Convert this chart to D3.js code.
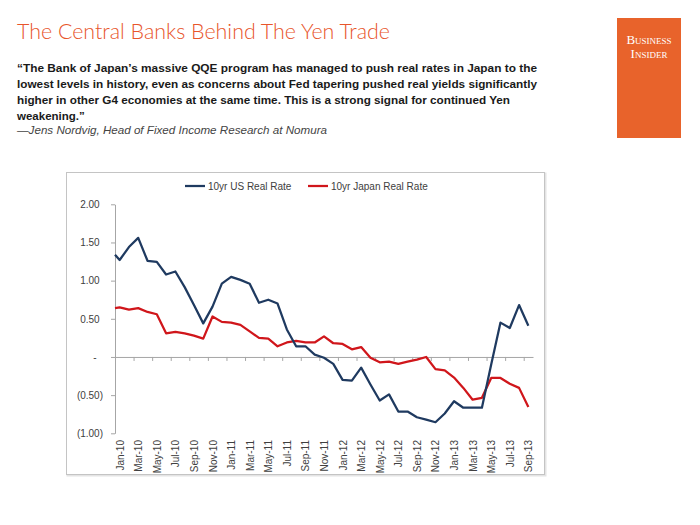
<!DOCTYPE html>
<html lang="en">
  <head>
    <meta charset="UTF-8" />
    <script src="https://d3js.org/d3.v7.min.js"></script>
    <style>
      body {
        margin: 0;
        background: #fff;
      }
      svg {
        display: block;
      }
    </style>
  </head>
  <body>
    <div id="chart"></div>
    <script>
      // month categories (Jan-10 .. Sep-13), every other one is labelled
      var months = [
        "Jan-10", "Feb-10", "Mar-10", "Apr-10", "May-10", "Jun-10", "Jul-10", "Aug-10", "Sep-10", "Oct-10", "Nov-10", "Dec-10",
        "Jan-11", "Feb-11", "Mar-11", "Apr-11", "May-11", "Jun-11", "Jul-11", "Aug-11", "Sep-11", "Oct-11", "Nov-11", "Dec-11",
        "Jan-12", "Feb-12", "Mar-12", "Apr-12", "May-12", "Jun-12", "Jul-12", "Aug-12", "Sep-12", "Oct-12", "Nov-12", "Dec-12",
        "Jan-13", "Feb-13", "Mar-13", "Apr-13", "May-13", "Jun-13", "Jul-13", "Aug-13", "Sep-13"
      ];

      // value where each line starts, at the left edge of the axis
      var usOpen = 1.34;
      var jpOpen = 0.64;

      var usRate = [
        1.27, 1.44, 1.56, 1.26, 1.245, 1.08, 1.12, 0.915, 0.68, 0.44, 0.66, 0.96,
        1.05, 1.01, 0.96, 0.71, 0.75, 0.70, 0.36, 0.14, 0.14, 0.03, -0.01, -0.09,
        -0.30, -0.31, -0.14, -0.36, -0.57, -0.49, -0.715, -0.715, -0.79, -0.82, -0.855, -0.74,
        -0.58, -0.665, -0.665, -0.665, -0.10, 0.45, 0.38, 0.68, 0.41
      ];

      var jpRate = [
        0.65, 0.62, 0.64, 0.59, 0.56, 0.31, 0.33, 0.31, 0.28, 0.24, 0.53, 0.46,
        0.45, 0.42, 0.335, 0.25, 0.24, 0.14, 0.19, 0.21, 0.19, 0.19, 0.27, 0.18,
        0.17, 0.10, 0.13, -0.01, -0.07, -0.06, -0.09, -0.06, -0.035, 0.0, -0.16, -0.175,
        -0.27, -0.405, -0.56, -0.535, -0.275, -0.275, -0.35, -0.405, -0.655
      ];

      var yTicks = [2, 1.5, 1, 0.5, 0, -0.5, -1];
      var seriesNames = ["10yr US Real Rate", "10yr Japan Real Rate"];

      var quoteLines = [
        "\u201cThe Bank of Japan\u2019s massive QQE program has managed to push real rates in Japan to the",
        "lowest levels in history, even as concerns about Fed tapering pushed real yields significantly",
        "higher in other G4 economies at the same time. This is a strong signal for continued Yen",
        "weakening.\u201d"
      ];

      var width = 700;
      var height = 525;
      var usColor = "#1f3a60";
      var jpColor = "#d0161b";
      var axisColor = "#a6a6a6";

      var svg = d3
        .select("#chart")
        .append("svg")
        .attr("width", width)
        .attr("height", height);

      // --- header ---
      svg
        .append("text")
        .attr("x", 17)
        .attr("y", 39)
        .attr("textLength", 373)
        .attr("lengthAdjust", "spacingAndGlyphs")
        .style("font-family", "Lato, 'Open Sans', sans-serif")
        .style("font-weight", 300)
        .style("font-size", "22px")
        .style("fill", "#e8552b")
        .text("The Central Banks Behind The Yen Trade");

      var quoteWidths = [520, 520, 493, null];
      svg
        .selectAll("text.quote")
        .data(quoteLines)
        .enter()
        .append("text")
        .attr("class", "quote")
        .attr("x", 17)
        .attr("y", (d, i) => 72 + i * 16)
        .attr("textLength", (d, i) => quoteWidths[i])
        .attr("lengthAdjust", "spacingAndGlyphs")
        .style("font-family", "'Liberation Sans', Arial, sans-serif")
        .style("font-weight", "bold")
        .style("font-size", "11.5px")
        .style("fill", "#1a1a1a")
        .text((d) => d);

      svg
        .append("text")
        .attr("x", 17)
        .attr("y", 134)
        .attr("textLength", 310)
        .attr("lengthAdjust", "spacingAndGlyphs")
        .style("font-family", "'Liberation Sans', Arial, sans-serif")
        .style("font-style", "italic")
        .style("font-size", "11.5px")
        .style("fill", "#444")
        .text("\u2014Jens Nordvig, Head of Fixed Income Research at Nomura");

      // Business Insider badge
      svg
        .append("rect")
        .attr("x", 617)
        .attr("y", 18)
        .attr("width", 64)
        .attr("height", 120)
        .attr("fill", "#e8632b");

      svg
        .selectAll("text.logo")
        .data(["Business", "Insider"])
        .enter()
        .append("text")
        .attr("class", "logo")
        .attr("x", 649)
        .attr("y", (d, i) => 44 + i * 14)
        .attr("text-anchor", "middle")
        .style("font-family", "'Liberation Serif', serif")
        .style("font-variant", "small-caps")
        .style("font-size", "13px")
        .style("fill", "#fff")
        .text((d) => d);

      // --- chart frame ---
      svg
        .append("rect")
        .attr("x", 67.5)
        .attr("y", 173.5)
        .attr("width", 478)
        .attr("height", 302)
        .attr("fill", "none")
        .attr("stroke", "#e4e4e4")
        .attr("stroke-width", 2);
      svg
        .append("rect")
        .attr("x", 66.5)
        .attr("y", 172.5)
        .attr("width", 478)
        .attr("height", 302)
        .attr("fill", "#fff")
        .attr("stroke", "#c4c4c4");

      // scales
      var x = d3.scaleBand().domain(months).range([115, 533]).padding(0);
      var xIdx = d3.scaleLinear().domain([0, months.length]).range([115, 533]);
      var y = d3.scaleLinear().domain([-1, 2]).range([433.3, 204.3]);

      function cx(m) {
        return x(m) + x.bandwidth() / 2;
      }

      // y axis (accounting style labels)
      var yAxis = svg
        .append("g")
        .attr("transform", "translate(115,0)")
        .call(
          d3
            .axisLeft(y)
            .tickValues(yTicks)
            .tickSize(4)
            .tickSizeOuter(0)
            .tickPadding(8)
            .tickFormat((d) => {
              if (d === 0) return "-";
              var s = Math.abs(d).toFixed(2);
              return d < 0 ? "(" + s + ")" : s;
            })
        );
      yAxis.select(".domain").attr("stroke", axisColor);
      yAxis.selectAll(".tick line").attr("stroke", axisColor);
      yAxis
        .selectAll(".tick text")
        .attr("dx", (d) => (d > 0 ? -3.4 : d === 0 ? -6.5 : 0))
        .style("font-family", "'Liberation Sans', Arial, sans-serif")
        .style("font-size", "10px")
        .style("fill", "#404040");

      // x axis sits on zero, ticks between every second month
      var xAxis = svg
        .append("g")
        .attr("transform", "translate(0," + y(0) + ")")
        .call(
          d3
            .axisBottom(xIdx)
            .tickValues(d3.range(0, months.length, 2))
            .tickSize(4)
            .tickSizeOuter(0)
            .tickFormat("")
        );
      xAxis.select(".domain").attr("stroke", axisColor);
      xAxis.selectAll(".tick line").attr("stroke", axisColor);

      // month labels under the plot, rotated
      svg
        .selectAll("text.month")
        .data(months.filter((d, i) => i % 2 === 0))
        .enter()
        .append("text")
        .attr("class", "month")
        .attr("transform", (d) => "translate(" + (cx(d) + 0.5) + ",440) rotate(-90)")
        .attr("dy", "0.35em")
        .attr("text-anchor", "end")
        .style("font-family", "'Liberation Sans', Arial, sans-serif")
        .style("font-size", "10px")
        .style("fill", "#404040")
        .text((d) => d);

      // lines
      var line = d3
        .line()
        .x((d) => d.x)
        .y((d) => y(d.v));

      function points(open, values) {
        return [{ x: x.range()[0], v: open }].concat(
          months.map((m, i) => ({ x: cx(m), v: values[i] }))
        );
      }

      svg
        .append("path")
        .datum(points(jpOpen, jpRate))
        .attr("fill", "none")
        .attr("stroke", jpColor)
        .attr("stroke-width", 2.25)
        .attr("stroke-linejoin", "round")
        .attr("d", line);

      svg
        .append("path")
        .datum(points(usOpen, usRate))
        .attr("fill", "none")
        .attr("stroke", usColor)
        .attr("stroke-width", 2.25)
        .attr("stroke-linejoin", "round")
        .attr("d", line);

      // legend
      var legend = svg
        .selectAll("g.legend")
        .data(seriesNames)
        .enter()
        .append("g")
        .attr("class", "legend")
        .attr("transform", (d, i) => "translate(" + (i === 0 ? 185 : 308) + ",186)");

      legend
        .append("line")
        .attr("x1", 0)
        .attr("x2", 20)
        .attr("stroke", (d, i) => (i === 0 ? usColor : jpColor))
        .attr("stroke-width", 2.25);

      legend
        .append("text")
        .attr("x", 23)
        .attr("dy", "0.35em")
        .style("font-family", "'Liberation Sans', Arial, sans-serif")
        .style("font-size", "10px")
        .style("fill", "#404040")
        .text((d) => d);
    </script>
  </body>
</html>
